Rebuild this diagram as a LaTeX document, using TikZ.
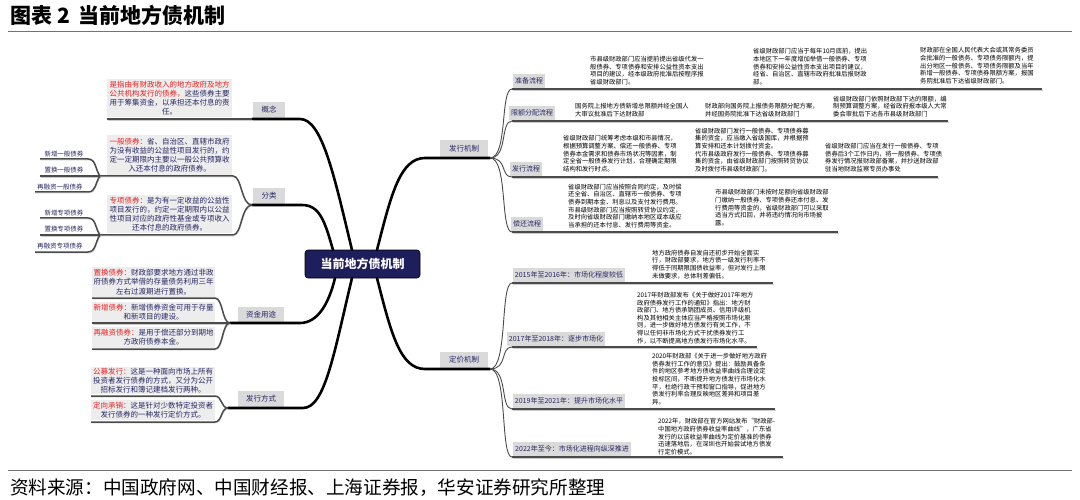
\documentclass[tikz,border=0pt]{standalone}
\usepackage{fontspec}
\setmainfont{Noto Sans CJK SC}
\usetikzlibrary{calc}
\definecolor{navyfill}{RGB}{30,30,92}
\definecolor{navytxt}{RGB}{38,38,100}
\definecolor{redtxt}{RGB}{240,30,30}
\definecolor{boxgray}{RGB}{237,237,237}
\definecolor{labgray}{RGB}{218,218,218}
\definecolor{rulegray}{RGB}{75,75,75}
\tikzset{
  mainline/.style={line width=2.6pt, black, line cap=round},
  boxrule/.style={line width=1.5pt, rulegray, preaction={draw=black!20, transform canvas={shift={(0.6pt,-1.1pt)}}}},
  thinline/.style={line width=0.9pt, rulegray},
  rrule/.style={line width=1.3pt, rulegray, preaction={draw=black!20, transform canvas={shift={(0.6pt,-1.1pt)}}}},
  lbox/.style={fill=boxgray, inner sep=0pt, minimum width=125pt, align=center, text=navytxt, font=\fontsize{7.5}{9.2}\selectfont},
  lab/.style={fill=labgray, text=navytxt, inner xsep=3pt, inner ysep=0pt, minimum height=16pt, font=\fontsize{7.5}{9}\selectfont},
  rlab/.style={fill=labgray, text=navytxt, inner xsep=2pt, inner ysep=0pt, minimum height=14pt, font=\fontsize{7}{8}\selectfont},
  rtxt/.style={align=left, inner sep=0pt, font=\fontsize{6.3}{7.6}\selectfont, anchor=south west},
  subl/.style={text=navytxt, inner sep=0pt, font=\fontsize{6.5}{8}\selectfont},
  centre/.style={fill=navyfill, draw=black, line width=0.6pt, rounded corners=3pt, text=white, minimum width=115pt, minimum height=28pt, font=\fontsize{12}{14}\selectfont\bfseries},
}
\begin{document}
\begin{tikzpicture}[x=1pt,y=-1pt]
\useasboundingbox (0,0) rectangle (1080,500);
\fill[white] (0,0) rectangle (1080,500);

% title and source
\node[anchor=west, inner sep=0pt, font=\fontsize{21}{23}\selectfont\bfseries] (title) at (10,15) {图表 2\hspace{9pt}当前地方债机制};
\draw[line width=0.6pt, black!55] (8,31) -- (1072,31);
\draw[line width=0.6pt, black!55] (8,470) -- (1072,470);
\node[anchor=west, inner sep=0pt, font=\fontsize{18.6}{20}\selectfont] (src) at (10,488) {资料来源：中国政府网、中国财经报、上海证券报，华安证券研究所整理};

% centre
\node[centre] (c) at (362.5,264) {当前地方债机制};
\coordinate (cn1) at (352,250);
\coordinate (cn2) at (333,250);
\coordinate (cn3) at (377,250);
\coordinate (cs1) at (335,278);
\coordinate (cs2) at (352,278);
\coordinate (cs3) at (377,278);

% ---------- left side ----------
% 概念
\node[lbox, minimum height=38pt] (gnbox) at (169.5,98) {\textcolor{redtxt}{是指由有财政收入的地方政府及地方}\\\textcolor{redtxt}{公共机构发行的债券，}这些债券主要\\用于筹集资金，以承担还本付息的责\\任。};
\node[lab, minimum width=32pt] (gn) at (269,110) {概念};
\coordinate (gnr) at (300,119);
\coordinate (gnm) at (252,119);
\coordinate (gnl) at (107,119);
\draw[mainline] (cn1) .. controls +(-18,-75) and +(22,0) .. (gnr) -- (gnm);
\draw[boxrule] (gnm) -- (gnl);

% 分类
\node[lab, minimum width=32pt] (fl) at (269,196) {分类};
\coordinate (flr) at (302,205);
\coordinate (fj) at (252,205);
\draw[mainline] (cn2) .. controls +(-8,-28) and +(18,0) .. (flr) -- (fj);
\node[lbox, minimum height=40pt] (ybbox) at (169.5,155) {\textcolor{redtxt}{一般债券：}省、自治区、直辖市政府\\为没有收益的公益性项目发行的，约\\定一定期限内主要以一般公共预算收\\入还本付息的政府债券。};
\node[lbox, minimum height=38pt] (zxbox) at (169.5,214) {\textcolor{redtxt}{专项债券：}是为有一定收益的公益性\\项目发行的，约定一定期限内以公益\\性项目对应的政府性基金或专项收入\\还本付息的政府债券。};
\coordinate (ybr) at (233,176);
\coordinate (zxr) at (233,235);
\coordinate (yj) at (100,176);
\coordinate (zj2) at (100,235);
\draw[boxrule] (fj) .. controls +(-11,0) and +(9,0) .. (ybr) -- (yj);
\draw[boxrule] (fj) .. controls +(-11,0) and +(9,0) .. (zxr) -- (zj2);

% sub items of 一般债券
\node[subl, anchor=south] (yb1) at (64,157) {新增一般债券};
\node[subl, anchor=south] (yb2) at (64,173.5) {置换一般债券};
\node[subl, anchor=south] (yb3) at (60,190) {再融资一般债券};
\coordinate (yb1l) at (40,159); \coordinate (yb1r) at (88,159);
\coordinate (yb2l) at (40,176);
\coordinate (yb3l) at (35,192); \coordinate (yb3r) at (88,192);
\draw[boxrule] (yb1l) -- (yb1r) .. controls +(8,0) and +(-5,-7) .. (yj);
\draw[boxrule] (yb2l) -- (yj);
\draw[boxrule] (yb3l) -- (yb3r) .. controls +(8,0) and +(-5,7) .. (yj);

% sub items of 专项债券
\node[subl, anchor=south] (zx1) at (64,216) {新增专项债券};
\node[subl, anchor=south] (zx2) at (64,232.5) {置换专项债券};
\node[subl, anchor=south] (zx3) at (60,249) {再融资专项债券};
\coordinate (zx1l) at (40,218); \coordinate (zx1r) at (88,218);
\coordinate (zx2l) at (40,235);
\coordinate (zx3l) at (35,252); \coordinate (zx3r) at (88,252);
\draw[boxrule] (zx1l) -- (zx1r) .. controls +(8,0) and +(-5,-7) .. (zj2);
\draw[boxrule] (zx2l) -- (zj2);
\draw[boxrule] (zx3l) -- (zx3r) .. controls +(8,0) and +(-5,7) .. (zj2);

% 资金用途
\node[lab, minimum width=46pt] (zj) at (261,314.5) {资金用途};
\coordinate (zjr) at (300,323);
\coordinate (zjj) at (230,323);
\draw[mainline] (cs1) .. controls +(-6,25) and +(18,0) .. (zjr) -- (zjj);
\node[lbox, minimum width=123pt, minimum height=30pt] (zhbox) at (153.5,282) {\textcolor{redtxt}{置换债券：}财政部要求地方通过非政\\府债券方式举借的存量债务利用三年\\左右过渡期进行置换。};
\node[lbox, minimum width=123pt, minimum height=20pt] (xzbox) at (153.5,312) {\textcolor{redtxt}{新增债券：}新增债券资金可用于存量\\和新项目的建设。};
\node[lbox, minimum width=123pt, minimum height=21pt] (zrbox) at (153.5,337.5) {\textcolor{redtxt}{再融资债券：}是用于偿还部分到期地\\方政府债券本金。};
\coordinate (zhr) at (215,298); \coordinate (zhl) at (92,298);
\coordinate (xzl) at (92,323);
\coordinate (zrr) at (215,349); \coordinate (zrl) at (92,349);
\draw[boxrule] (zjj) .. controls +(-8,0) and +(8,0) .. (zhr) -- (zhl);
\draw[boxrule] (zjj) -- (xzl);
\draw[boxrule] (zjj) .. controls +(-8,0) and +(8,0) .. (zrr) -- (zrl);

% 发行方式
\node[lab, minimum width=46pt] (fx) at (261,399) {发行方式};
\coordinate (fxr) at (303,408);
\coordinate (fxj) at (228,408);
\draw[mainline] (cs2) .. controls +(-18,75) and +(22,0) .. (fxr) -- (fxj);
\node[lbox, minimum width=124pt, minimum height=27pt] (gmbox) at (153,380.5) {\textcolor{redtxt}{公募发行：}这是一种面向市场上所有\\投资者发行债券的方式，又分为公开\\招标发行和簿记建档发行两种。};
\node[lbox, minimum width=124pt, minimum height=20pt] (dxbox) at (153,410) {\textcolor{redtxt}{定向承销：}这是针对少数特定投资者\\发行债券的一种发行定价方式。};
\coordinate (gmr) at (215,396); \coordinate (gml) at (91,396);
\coordinate (dxr) at (215,422); \coordinate (dxl) at (91,422);
\draw[boxrule] (fxj) .. controls +(-7,0) and +(7,0) .. (gmr) -- (gml);
\draw[boxrule] (fxj) .. controls +(-7,0) and +(7,0) .. (dxr) -- (dxl);

% ---------- right side ----------
% 发行机制
\node[lab, minimum width=48pt, minimum height=17pt] (fxjz) at (464,149) {发行机制};
\coordinate (fxjzl) at (425,158);
\coordinate (fxjzj) at (490,158);
\draw[mainline] (cn3) .. controls +(14,-55) and +(-25,0) .. (fxjzl) -- (fxjzj);

\node[rlab] (zb) at (529,81) {准备流程};
\node[rlab] (xe) at (532,113) {限额分配流程};
\node[rlab] (fl2) at (526,169) {发行流程};
\node[rlab] (ch) at (527,224) {偿还流程};
\coordinate (zbl) at (512,89);  \coordinate (zbr) at (1042,89);
\coordinate (xel) at (512,121); \coordinate (xer) at (948,121);
\coordinate (fll) at (512,177); \coordinate (flr2) at (938,177);
\coordinate (chl) at (512,232); \coordinate (chr) at (838,232);
\foreach \a/\b in {zbl/zbr, xel/xer, fll/flr2, chl/chr}{
  \draw[thinline] (fxjzj) .. controls +(18,0) and +(-12,0) .. (\a);
  \draw[rrule] (\a) -- (\b);
}

\node[rtxt] (zb1) at (590,85) {市县级财政部门应当提前提出省级代发一\\般债券、专项债券和安排公益性资本支出\\项目的建议，经本级政府批准后按程序报\\省级财政部门。};
\node[rtxt] (zb2) at (753,85) {省级财政部门应当于每年10月底前，提出\\本地区下一年度增加举借一般债券、专项\\债券和安排公益性资本支出项目的建议，\\经省、自治区、直辖市政府批准后报财政\\部。};
\node[rtxt] (zb3) at (920,84) {财政部在全国人民代表大会或其常务委员\\会批准的一般债务、专项债务限额内，提\\出分地区一般债务、专项债务限额及当年\\新增一般债券、专项债券限额方案，报国\\务院批准后下达省级财政部门。};

\node[rtxt] (xe1) at (575,117) {国务院上报地方债新增总限额并经全国人\\大审议批准后下达财政部};
\node[rtxt] (xe2) at (705,117) {财政部向国务院上报债务限额分配方案，\\并经国务院批准下达省级财政部门};
\node[rtxt] (xe3) at (833,117) {省级财政部门依照财政部下达的限额，编\\制预算调整方案，经省政府报本级人大常\\委会审批后下达各市县级财政部门};

\node[rtxt] (fx1) at (563,172) {省级财政部门统筹考虑本级和市县情况，\\根据预算调整方案、偿还一般债券、专项\\债券本金需求和债券市场状况等因素，制\\定全省一般债券发行计划，合理确定期限\\结构和发行时点。};
\node[rtxt] (fx2) at (695,172) {省级财政部门发行一般债券、专项债券募\\集的资金，应当缴入省级国库，并根据预\\算安排和还本计划拨付资金。\\代市县级政府发行一般债券、专项债券募\\集的资金，由省级财政部门按照转贷协议\\及时拨付市县级财政部门。};
\node[rtxt] (fx3) at (825,172) {省级财政部门应当在发行一般债券、专项\\债券后3个工作日内，将一般债券、专项债\\券发行情况报财政部备案，并抄送财政部\\驻当地财政监察专员办事处};

\node[rtxt] (ch1) at (568,228) {省级财政部门应当按照合同约定，及时偿\\还全省、自治区、直辖市一般债券、专项\\债券到期本金、利息以及支付发行费用。\\市县级财政部门应当按照转贷协议约定，\\及时向省级财政部门缴纳本地区或本级应\\当承担的还本付息、发行费用等资金。};
\node[rtxt] (ch2) at (715,226) {市县级财政部门未按时足额向省级财政部\\门缴纳一般债券、专项债券还本付息、发\\行费用等资金的，省级财政部门可以采取\\适当方式扣回，并将违约情况向市场披\\露。};

% 定价机制
\node[lab, minimum width=48pt, minimum height=17pt] (djjz) at (464,360) {定价机制};
\coordinate (djjzl) at (425,369);
\coordinate (djjzj) at (490,369);
\draw[mainline] (cs3) .. controls +(14,55) and +(-25,0) .. (djjzl) -- (djjzj);

\node[rlab] (p1) at (569,274.5) {2015年至2016年：市场化程度较低};
\node[rlab] (p2) at (556,338.5) {2017年至2018年：逐步市场化};
\node[rlab] (p3) at (569,400.5) {2019年至2021年：提升市场化水平};
\node[rlab] (p4) at (572,448.5) {2022年至今：市场化进程向纵深推进};
\coordinate (p1l) at (512,283); \coordinate (p1r) at (773,283);
\coordinate (p2l) at (512,347); \coordinate (p2r) at (757,347);
\coordinate (p3l) at (512,409); \coordinate (p3r) at (775,409);
\coordinate (p4l) at (512,457); \coordinate (p4r) at (783,457);
\foreach \a/\b in {p1l/p1r, p2l/p2r, p3l/p3r, p4l/p4r}{
  \draw[thinline] (djjzj) .. controls +(18,0) and +(-12,0) .. (\a);
  \draw[rrule] (\a) -- (\b);
}

\node[rtxt] (t1) at (652,279) {地方政府债券自发自还初步开始全面实\\行，财政部要求，地方债一级发行利率不\\得低于同期限国债收益率，但对发行上限\\未做要求，总体利差偏低。};
\node[rtxt] (t2) at (637,344) {2017年财政部发布《关于做好2017年地方\\政府债券发行工作的通知》指出：地方财\\政部门、地方债承销团成员、信用评级机\\构及其他相关主体应当严格按照市场化原\\则，进一步做好地方债发行有关工作，不\\得以任何非市场化方式干扰债券发行工\\作，以不断提高地方债发行市场化水平。};
\node[rtxt] (t3) at (652,405) {2020年财政部《关于进一步做好地方政府\\债券发行工作的意见》提出：鼓励具备条\\件的地区参考地方债收益率曲线合理设定\\投标区间，不断提升地方债发行市场化水\\平，杜绝行政干预和窗口指导，促进地方\\债发行利率合理反映地区差异和项目差\\异。};
\node[rtxt] (t4) at (658,455) {2022年，财政部在官方网站发布“财政部-\\中国地方政府债券收益率曲线”，广东省\\发行的以该收益率曲线为定价基准的债券\\迅速落地后，在深圳也开始尝试地方债发\\行定价模式。};
\end{tikzpicture}
\end{document}
